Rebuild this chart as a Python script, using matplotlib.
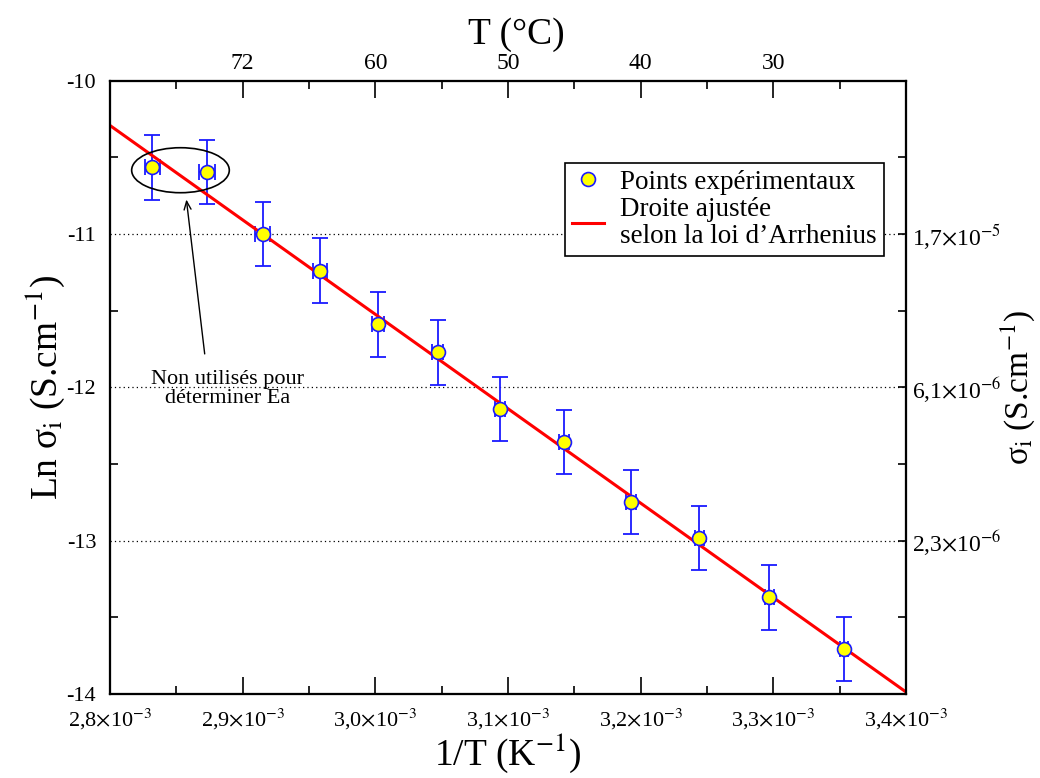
import matplotlib
matplotlib.use('Agg')
import matplotlib.pyplot as plt
import numpy as np
from matplotlib.patches import Ellipse
from matplotlib.lines import Line2D

plt.rcParams['font.family'] = ['Liberation Serif', 'DejaVu Serif']
plt.rcParams['mathtext.fontset'] = 'stix'
plt.rcParams['axes.unicode_minus'] = False

# ---------------- data ----------------
inv_T_1e3 = [2.832, 2.873, 2.915, 2.958, 3.002, 3.047, 3.094, 3.142, 3.193, 3.244, 3.297, 3.353]
ln_sigma = [-10.565, -10.594, -11.000, -11.239, -11.589, -11.772, -12.142, -12.355, -12.746, -12.981, -13.370, -13.705]
yerr = [0.21, 0.21, 0.21, 0.21, 0.21, 0.21, 0.21, 0.21, 0.21, 0.21, 0.21, 0.21]
xerr_1e3 = [0.0060, 0.0060, 0.0057, 0.0053, 0.0048, 0.0042, 0.0040, 0.0038, 0.0038, 0.0034, 0.0034, 0.0030]

fit_slope = -6158.0      # Ea/k (K)
fit_intercept = 6.95
fit_range_1e3 = [2.8, 3.4]

bottom_ticks_1e3 = [2.8, 2.9, 3.0, 3.1, 3.2, 3.3, 3.4]
bottom_labels = ['2,8', '2,9', '3,0', '3,1', '3,2', '3,3', '3,4']
top_ticks_1e3 = [2.9, 3.0, 3.1, 3.2, 3.3]
top_labels = ['72', '60', '50', '40', '30']
left_ticks = [-14, -13, -12, -11, -10]
right_ticks = [-11, -12, -13]
right_labels = [r'1,7$\times$10$^{-5}$', r'6,1$\times$10$^{-6}$', r'2,3$\times$10$^{-6}$']

# ---------------- figure ----------------
fig = plt.figure(figsize=(10.4, 7.78), dpi=100)
ax = fig.add_axes([0.1058, 0.108, 0.7654, 0.7883])

x = np.array(inv_T_1e3) * 1e-3
xe = np.array(xerr_1e3) * 1e-3

for yv in right_ticks:
    ax.axhline(yv, color='black', lw=0.9, ls=(0, (1, 2.5)), zorder=1)

fx = np.array(fit_range_1e3) * 1e-3
ax.plot(fx, fit_intercept + fit_slope * fx, color='#ff0000', lw=2.2, zorder=4)

ax.errorbar(x, ln_sigma, yerr=yerr, xerr=xe, fmt='none', ecolor='#1a1aff',
            elinewidth=1.3, capsize=6, capthick=1.3, zorder=3)
ax.plot(x, ln_sigma, 'o', ms=10, mfc='#ffff00', mec='#1a1aff', mew=1.2, zorder=5)

ax.set_xlim(2.8e-3, 3.4e-3)
ax.set_ylim(-14, -10)

ax.set_xticks(np.array(bottom_ticks_1e3) * 1e-3)
ax.set_xticklabels([b + r'$\times$10$^{-3}$' for b in bottom_labels])
ax.set_xticks((np.array(bottom_ticks_1e3[:-1]) + 0.05) * 1e-3, minor=True)
ax.set_yticks(left_ticks)
ax.set_yticklabels([str(v) for v in left_ticks])
ax.set_yticks([-13.5, -12.5, -11.5, -10.5], minor=True)

ax.tick_params(axis='x', which='major', direction='in', length=12, width=1.2, labelsize=16, pad=9, top=False)
ax.tick_params(axis='x', which='minor', direction='in', length=6, width=1.2, top=False)
ax.tick_params(axis='y', which='major', direction='in', length=0, labelsize=16, pad=10, right=False)
ax.tick_params(axis='y', which='minor', direction='in', length=6, width=1.2, right=False)

for sp in ax.spines.values():
    sp.set_linewidth(1.5)

ax.set_xlabel(r'1/T (K$^{-1}$)', fontsize=27, labelpad=0)
ax.set_ylabel(r'Ln σ$_{\rm i}$ (S.cm$^{-1}$)', fontsize=27, labelpad=0)

# top axis
axt = ax.twiny()
axt.set_xlim(ax.get_xlim())
axt.set_xticks(np.array(top_ticks_1e3) * 1e-3)
axt.set_xticklabels(top_labels)
axt.set_xticks((np.array(bottom_ticks_1e3[:-1]) + 0.05) * 1e-3, minor=True)
axt.tick_params(axis='x', which='major', direction='in', length=12, width=1.2, labelsize=17, pad=5)
axt.tick_params(axis='x', which='minor', direction='in', length=6, width=1.2)
axt.set_xlabel('T (°C)', fontsize=27)
axt.xaxis.set_label_coords(0.511, 1.06)

# right axis
axr = ax.twinx()
axr.set_ylim(ax.get_ylim())
axr.set_yticks(right_ticks)
axr.set_yticklabels(right_labels)
axr.set_yticks([-13.5, -12.5, -11.5, -10.5], minor=True)
axr.tick_params(axis='y', which='both', direction='in', length=6, width=1.2, labelsize=17, pad=4)
axr.set_ylabel(r'σ$_{\rm i}$ (S.cm$^{-1}$)', fontsize=24, labelpad=-2)
for a in (axt, axr):
    for sp in a.spines.values():
        sp.set_linewidth(1.5)

# annotation
ell = Ellipse((2.8531e-3, -10.584), width=0.0736e-3, height=0.2935, fill=False,
              ec='black', lw=1.2, zorder=6)
ax.add_patch(ell)
ax.annotate('', xy=(2.8573e-3, -10.757), xytext=(2.8716e-3, -11.80),
            arrowprops=dict(arrowstyle='->,head_length=0.6,head_width=0.25', color='black', lw=1.0))
ax.text(2.8889e-3, -12.01, 'Non utilisés pour\ndéterminer Ea', ha='center', va='center',
        fontsize=16, linespacing=1.0, zorder=6)

# legend
handles = [Line2D([], [], ls='none', marker='o', ms=10, mfc='#ffff00', mec='#1a1aff', mew=1.2),
           Line2D([], [], color='#ff0000', lw=2.2)]
labels = ['Points expérimentaux', 'Droite ajustée\nselon la loi d’Arrhenius']
leg = ax.legend(handles, labels, loc='upper right', bbox_to_anchor=(0.972, 0.866),
                borderaxespad=0, fontsize=19.5, frameon=True, fancybox=False,
                edgecolor='black', framealpha=1, handlelength=1.2, handletextpad=0.6,
                borderpad=0.25, labelspacing=0.1)
for t in leg.get_texts():
    t.set_linespacing(1.1)
leg.get_frame().set_linewidth(1.2)
leg.set_zorder(10)

fig.savefig('out.png', dpi=100)
